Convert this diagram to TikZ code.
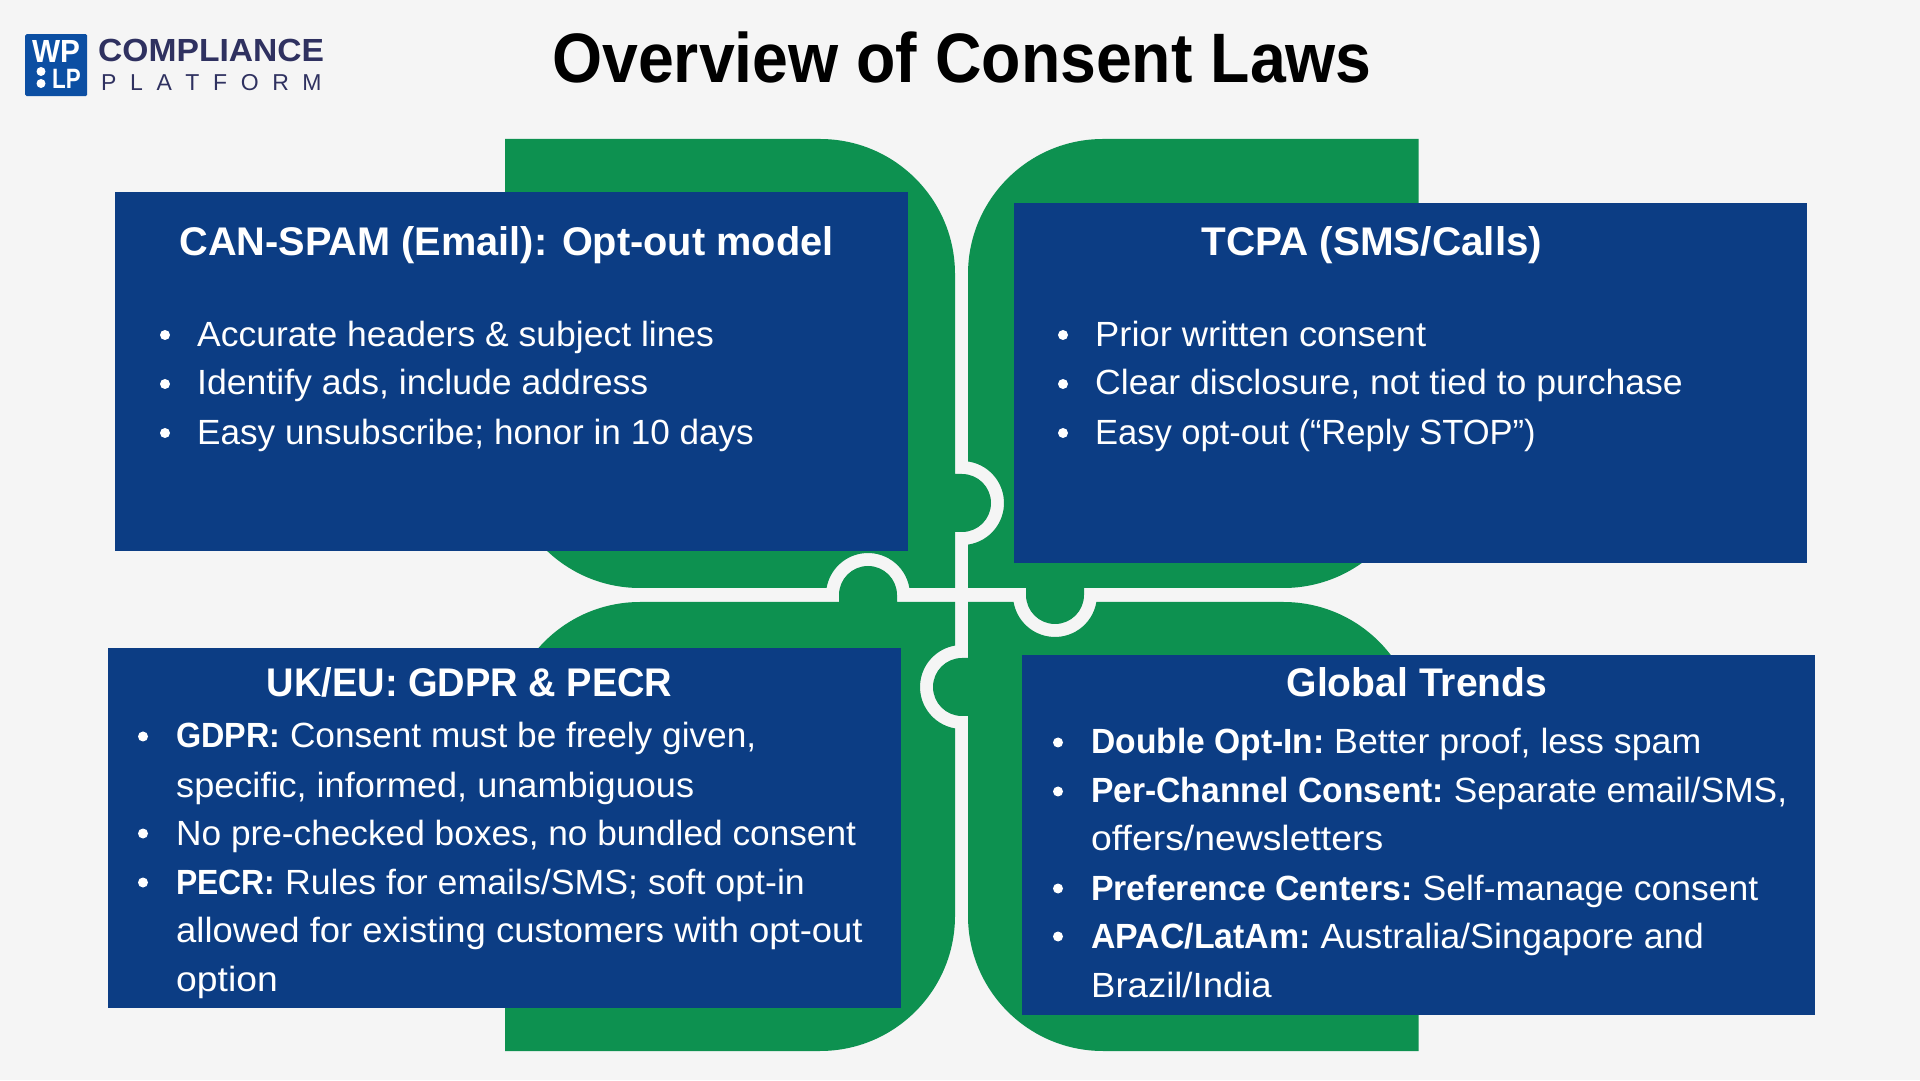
\documentclass[tikz,border=0pt]{standalone}
\usepackage{fontspec}
\usepackage{graphicx}
\setmainfont{Liberation Sans}
\definecolor{bgc}{HTML}{F5F5F5}
\definecolor{grn}{HTML}{0D9150}
\definecolor{navy}{HTML}{0C3D84}
\definecolor{logob}{HTML}{0C4FA3}
\definecolor{logot}{HTML}{2F3160}
\newcommand{\bodyf}{\fontsize{35}{35}\selectfont}
\newcommand{\headf}{\fontsize{40}{40}\selectfont\bfseries}
\newcommand{\sx}[2]{\scalebox{#1}[1]{#2}}
\tikzset{
  x=1pt,y=1pt,
  piece/.style={fill=grn,draw=none},
  card/.style={fill=navy,draw=none,anchor=south west,inner sep=0pt},
  head/.style={text=white,anchor=base,inner sep=0pt,font=\headf},
  line/.style={text=white,anchor=base west,inner sep=0pt,font=\bodyf},
  dot/.style={circle,fill=white,draw=none,inner sep=0pt,minimum size=10pt},
  logodot/.style={dot,minimum size=9pt},
}
\begin{document}
\begin{tikzpicture}
\useasboundingbox[fill=bgc] (0,0) rectangle (1920,1080);
% puzzle pieces
\path[piece] (505,941) -- (820,941) arc[start angle=90,end angle=0,radius=135pt] -- (955,606) -- (962,606) arc[start angle=90,end angle=-90,radius=29pt] -- (955,548) -- (955,492) -- (909.4,492) arc[start angle=9.6,end angle=170.4,radius=42pt] -- (640,492) arc[start angle=270,end angle=180,radius=135pt] -- cycle;
\path[piece] (1103,941) -- (1418.5,941) -- (1418.5,627) arc[start angle=0,end angle=-90,radius=135pt] -- (1084,492) -- (1084,485) arc[start angle=0,end angle=-180,radius=29pt] -- (1026,492) -- (968,492) -- (968,535.4) arc[start angle=-81.8,end angle=81.8,radius=42pt] -- (968,806) arc[start angle=180,end angle=90,radius=135pt] -- cycle;
\path[piece] (505,29) -- (820,29) arc[start angle=-90,end angle=0,radius=135pt] -- (955,351.6) arc[start angle=260.4,end angle=99.6,radius=42pt] -- (955,478) -- (897,478) -- (897,485) arc[start angle=0,end angle=180,radius=29pt] -- (839,478) -- (640,478) arc[start angle=90,end angle=180,radius=135pt] -- cycle;
\path[piece] (1103,29) -- (1418.5,29) -- (1418.5,343) arc[start angle=0,end angle=90,radius=135pt] -- (1096.4,478) arc[start angle=-9.6,end angle=-170.4,radius=42pt] -- (968,478) -- (968,422) -- (962,422) arc[start angle=90,end angle=270,radius=29pt] -- (968,364) -- (968,164) arc[start angle=180,end angle=270,radius=135pt] -- cycle;
% cards
\node[card,minimum width=793pt,minimum height=359.5pt] (cardtl) at (115,528.5) {};
\node[card,minimum width=792.5pt,minimum height=360pt] (cardtr) at (1014,517) {};
\node[card,minimum width=793pt,minimum height=360pt] (cardbl) at (108,72) {};
\node[card,minimum width=793pt,minimum height=360pt] (cardbr) at (1022,65) {};
% title
\node[anchor=base,inner sep=0pt,font=\fontsize{70}{70}\selectfont\bfseries] (title) at (962,997) {\sx{.92}{Overview of Consent Laws}};
% logo
\node[fill=logob,rounded corners=1.5pt,anchor=north west,minimum size=62pt,inner sep=0pt] (logobox) at (25,1046) {};
\node[text=white,anchor=base,inner sep=0pt,font=\fontsize{32}{32}\selectfont\bfseries] (logowp) at (56,1017) {\sx{.93}{WP}};
\node[text=white,anchor=base west,inner sep=0pt,font=\fontsize{28}{28}\selectfont\bfseries] (logolp) at (52,991) {\sx{.8}{LP}};
\node[logodot] (logod1) at (41,1008.5) {};
\node[logodot] (logod2) at (41,996.5) {};
\node[text=logot,anchor=base west,inner sep=0pt,font=\fontsize{32}{32}\selectfont\bfseries] (logoc) at (98,1018) {\sx{1.05}{COMPLIANCE}};
\node[text=logot,anchor=base west,inner sep=0pt,font=\fontsize{23}{23}\selectfont] (logop) at (101,989) {P\hspace{13.6pt}L\hspace{13.6pt}A\hspace{13.6pt}T\hspace{13.6pt}F\hspace{13.6pt}O\hspace{13.6pt}R\hspace{13.6pt}M};
% top left
\node[head] (tlh) at (506.5,824) {\sx{.993}{CAN-SPAM (Email): Opt-out model}};
\node[dot] (tld1) at (165,745) {};
\node[line] (tl1) at (197,733.5) {\sx{1.014}{Accurate headers \& subject lines}};
\node[dot] (tld2) at (165,696) {};
\node[line] (tl2) at (197,685.5) {\sx{1.017}{Identify ads, include address}};
\node[dot] (tld3) at (165,647) {};
\node[line] (tl3) at (197,635.5) {\sx{1.004}{Easy unsubscribe; honor in 10 days}};
% top right
\node[head] (trh) at (1371.9,824) {\sx{1.011}{TCPA (SMS/Calls)}};
\node[dot] (trd1) at (1063,745) {};
\node[line] (tr1) at (1095,733.5) {\sx{1.038}{Prior written consent}};
\node[dot] (trd2) at (1063,696) {};
\node[line] (tr2) at (1095,685.5) {\sx{1.017}{Clear disclosure, not tied to purchase}};
\node[dot] (trd3) at (1063,647) {};
\node[line] (tr3) at (1095,635.5) {\sx{.986}{Easy opt-out (“Reply STOP”)}};
% bottom left
\node[head] (blh) at (469.6,383) {\sx{.951}{UK/EU: GDPR \& PECR}};
\node[dot] (bld1) at (143,343.5) {};
\node[line] (bl1) at (176,332) {\sx{.923}{\textbf{GDPR:}} \sx{1.007}{Consent must be freely given,}};
\node[line] (bl2) at (176,283) {\sx{1.032}{specific, informed, unambiguous}};
\node[dot] (bld2) at (143,246.5) {};
\node[line] (bl3) at (176,235) {\sx{1.007}{No pre-checked boxes, no bundled consent}};
\node[dot] (bld3) at (143,197.5) {};
\node[line] (bl4) at (176,186) {\sx{.91}{\textbf{PECR:}} \sx{1.02}{Rules for emails/SMS; soft opt-in}};
\node[line] (bl5) at (176,138) {\sx{1.041}{allowed for existing customers with opt-out}};
\node[line] (bl6) at (176,89) {\sx{1.065}{option}};
% bottom right
\node[head] (brh) at (1417,383) {\sx{.977}{Global Trends}};
\node[dot] (brd1) at (1058,337.5) {};
\node[line] (br1) at (1091,326) {\sx{.96}{\textbf{Double Opt-In:}} \sx{1.02}{Better proof, less spam}};
\node[dot] (brd2) at (1058,288.5) {};
\node[line] (br2) at (1091,277) {\sx{.96}{\textbf{Per-Channel Consent:}} \sx{1.008}{Separate email/SMS,}};
\node[line] (br3) at (1091,229.5) {\sx{1.067}{offers/newsletters}};
\node[dot] (brd3) at (1058,191.5) {};
\node[line] (br4) at (1091,180) {\sx{.967}{\textbf{Preference Centers:}} \sx{1.015}{Self-manage consent}};
\node[dot] (brd4) at (1058,143.5) {};
\node[line] (br5) at (1091,132) {\sx{.968}{\textbf{APAC/LatAm:}} \sx{1.026}{Australia/Singapore and}};
\node[line] (br6) at (1091,83) {\sx{1.043}{Brazil/India}};
\end{tikzpicture}
\end{document}
